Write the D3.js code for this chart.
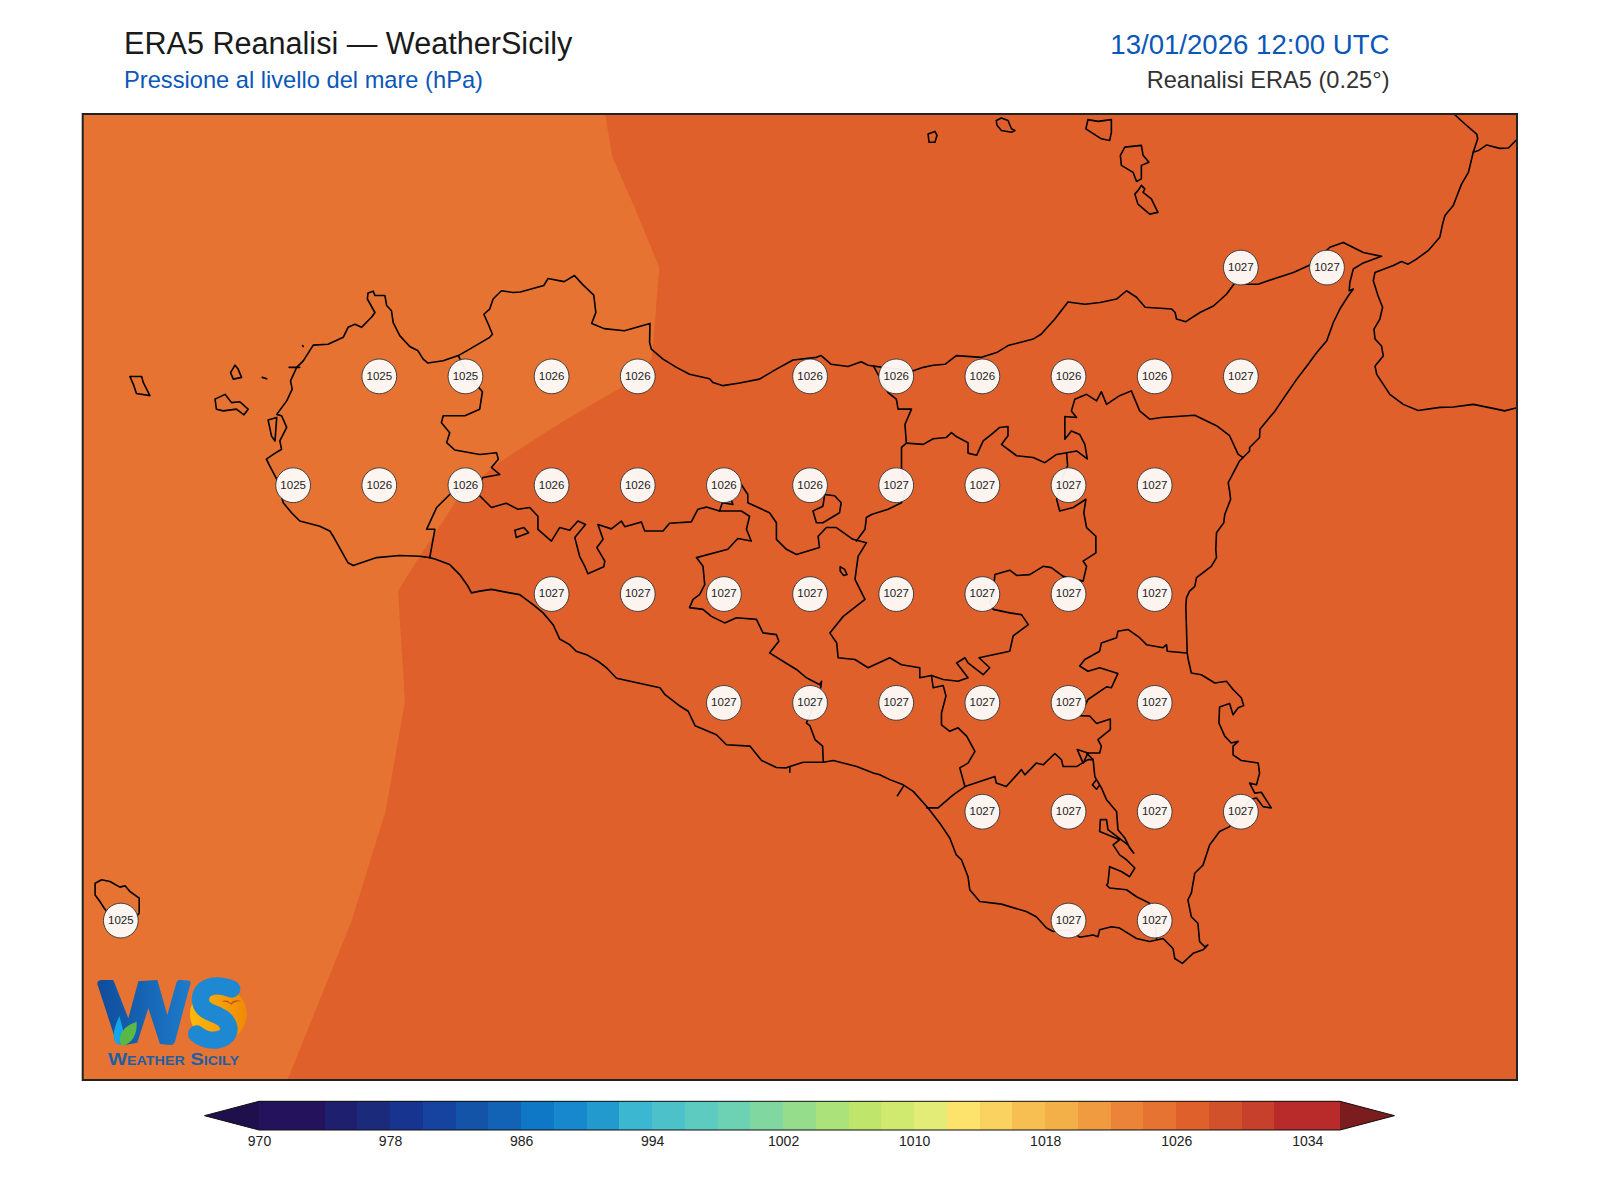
<!DOCTYPE html>
<html>
<head>
<meta charset="utf-8">
<title>ERA5 Reanalisi</title>
<script src="https://cdn.jsdelivr.net/npm/d3@7"></script>
<style>
  body { margin: 0; background: #fff; }
  text { font-family: "Liberation Sans", Arial, sans-serif; }
</style>
</head>
<body>
<div id="chart"></div>
<script>
// pressure sampled on the 0.25 degree grid (hPa), null = no label
const gridLons = [12, 12.25, 12.5, 12.75, 13, 13.25, 13.5, 13.75, 14, 14.25, 14.5, 14.75, 15, 15.25, 15.5];
const gridLats = [38.25, 38, 37.75, 37.5, 37.25, 37, 36.75];
const _ = null;
const gridValues = [
  [_, _, _, _, _, _, _, _, _, _, _, _, _, 1027, 1027],
  [_, _, _, 1025, 1025, 1026, 1026, _, 1026, 1026, 1026, 1026, 1026, 1027, _],
  [_, _, 1025, 1026, 1026, 1026, 1026, 1026, 1026, 1027, 1027, 1027, 1027, _, _],
  [_, _, _, _, _, 1027, 1027, 1027, 1027, 1027, 1027, 1027, 1027, _, _],
  [_, _, _, _, _, _, _, 1027, 1027, 1027, 1027, 1027, 1027, _, _],
  [_, _, _, _, _, _, _, _, _, _, 1027, 1027, 1027, 1027, _],
  [1025, _, _, _, _, _, _, _, _, _, _, 1027, 1027, _, _],
];

// colour bar
const levels = d3.range(970, 1036, 2);
const levelColors = ['#24125c', '#24125c', '#1f1f70', '#1c2a7c', '#173590', '#16439f', '#1353a8', '#1263b5', '#0e77c6',
  '#1888ce', '#239acd', '#3bb7d1', '#4dc1c9', '#5ecbc0', '#6dd2b3', '#80d79f', '#96dd8b', '#ace27a', '#bfe56a', '#d0e96f',
  '#e3ec76', '#fde26b', '#fad260', '#f7be52', '#f4b048', '#f09b3f', '#eb8438', '#e67331', '#e0602c', '#d1512b', '#c7402c',
  '#b92a2b', '#b92a2b'];
const barTicks = [970, 978, 986, 994, 1002, 1010, 1018, 1026, 1034];

// 1026 hPa contour, north to south [lon, lat]
const contour1026 = [[13.41, 38.6], [13.431, 38.501], [13.496, 38.384], [13.567, 38.248], [13.549, 38.067], [13.544, 38.037],
  [13.457, 37.972], [13.356, 37.926], [13.259, 37.88], [13.162, 37.83], [13.094, 37.795], [13.056, 37.769], [12.988, 37.723],
  [12.949, 37.676], [12.911, 37.63], [12.872, 37.584], [12.809, 37.504], [12.829, 37.25], [12.773, 36.999], [12.675, 36.748],
  [12.488, 36.381]];

// coastlines [lon, lat]
const coastSicily = [[12.427, 37.807], [12.447, 37.818], [12.471, 37.83], [12.466, 37.849], [12.486, 37.88], [12.471, 37.907],
  [12.457, 37.91], [12.486, 37.941], [12.502, 37.968], [12.497, 37.987], [12.515, 38.018], [12.534, 38.033], [12.563, 38.069],
  [12.606, 38.071], [12.65, 38.087], [12.664, 38.11], [12.684, 38.117], [12.703, 38.11], [12.732, 38.133], [12.742, 38.144],
  [12.72, 38.175], [12.722, 38.189], [12.737, 38.193], [12.742, 38.183], [12.771, 38.183], [12.776, 38.16], [12.79, 38.148],
  [12.795, 38.121], [12.814, 38.091], [12.843, 38.066], [12.867, 38.056], [12.882, 38.037], [12.896, 38.028], [12.94, 38.033],
  [12.984, 38.045], [13.017, 38.06], [13.075, 38.087], [13.083, 38.094], [13.071, 38.117], [13.058, 38.14], [13.075, 38.152],
  [13.085, 38.175], [13.109, 38.194], [13.143, 38.19], [13.164, 38.191], [13.232, 38.206], [13.244, 38.222], [13.291, 38.215],
  [13.321, 38.229], [13.345, 38.208], [13.377, 38.184], [13.383, 38.144], [13.371, 38.119], [13.407, 38.107], [13.466, 38.102],
  [13.54, 38.119], [13.539, 38.075], [13.544, 38.06], [13.578, 38.037], [13.617, 38.018], [13.655, 38.002], [13.713, 37.992],
  [13.723, 37.983], [13.752, 37.976], [13.8, 37.982], [13.858, 37.991], [13.907, 38.014], [13.955, 38.035], [14.023, 38.041],
  [14.037, 38.045], [14.066, 38.025], [14.115, 38.02], [14.153, 38.031], [14.173, 38.023], [14.216, 38.018], [14.304, 38.01],
  [14.333, 38.018], [14.362, 38.023], [14.396, 38.025], [14.429, 38.045], [14.502, 38.041], [14.546, 38.052], [14.579, 38.068],
  [14.633, 38.079], [14.652, 38.083], [14.675, 38.094], [14.715, 38.129], [14.753, 38.168], [14.802, 38.163], [14.846, 38.167],
  [14.894, 38.175], [14.923, 38.194], [14.952, 38.179], [14.977, 38.156], [15.054, 38.152], [15.064, 38.144], [15.068, 38.129],
  [15.095, 38.123], [15.136, 38.144], [15.175, 38.159], [15.213, 38.186], [15.238, 38.213], [15.262, 38.209], [15.305, 38.209],
  [15.349, 38.221], [15.407, 38.236], [15.46, 38.255], [15.513, 38.294], [15.552, 38.305], [15.61, 38.282], [15.663, 38.273],
  [15.61, 38.258], [15.581, 38.244], [15.571, 38.213], [15.569, 38.194], [15.581, 38.198], [15.566, 38.182], [15.542, 38.152],
  [15.523, 38.121], [15.504, 38.079], [15.475, 38.052], [15.45, 38.025], [15.417, 37.991], [15.383, 37.952], [15.354, 37.918],
  [15.31, 37.876], [15.309, 37.857], [15.28, 37.834], [15.28, 37.826], [15.251, 37.803], [15.218, 37.753], [15.222, 37.734],
  [15.225, 37.715], [15.208, 37.68], [15.205, 37.661], [15.184, 37.638], [15.182, 37.6], [15.184, 37.581], [15.169, 37.561],
  [15.126, 37.535], [15.121, 37.515], [15.106, 37.504], [15.097, 37.489], [15.095, 37.469], [15.099, 37.362], [15.102, 37.347],
  [15.111, 37.316], [15.14, 37.312], [15.179, 37.293], [15.213, 37.297], [15.232, 37.278], [15.256, 37.259], [15.263, 37.241],
  [15.247, 37.236], [15.232, 37.22], [15.222, 37.246], [15.193, 37.238], [15.191, 37.201], [15.208, 37.171], [15.227, 37.155],
  [15.247, 37.159], [15.232, 37.148], [15.232, 37.128], [15.256, 37.115], [15.305, 37.109], [15.309, 37.086], [15.3, 37.059],
  [15.28, 37.063], [15.295, 37.04], [15.314, 37.042], [15.343, 37.006], [15.319, 37.009], [15.3, 37.029], [15.28, 37.025],
  [15.222, 36.963], [15.193, 36.952], [15.164, 36.921], [15.145, 36.875], [15.121, 36.856], [15.111, 36.81], [15.101, 36.795],
  [15.111, 36.756], [15.13, 36.741], [15.135, 36.699], [15.15, 36.687], [15.159, 36.691], [15.145, 36.68], [15.116, 36.672],
  [15.085, 36.649], [15.063, 36.66], [15.058, 36.683], [15.029, 36.706], [14.99, 36.699], [14.952, 36.706], [14.903, 36.73],
  [14.879, 36.733], [14.845, 36.726], [14.84, 36.71], [14.826, 36.714], [14.787, 36.709], [14.758, 36.726], [14.71, 36.722],
  [14.691, 36.73], [14.661, 36.756], [14.632, 36.768], [14.56, 36.785], [14.497, 36.791], [14.468, 36.818], [14.463, 36.848],
  [14.444, 36.887], [14.429, 36.898], [14.41, 36.937], [14.381, 36.971], [14.347, 37.006], [14.304, 37.044], [14.275, 37.059],
  [14.236, 37.071], [14.207, 37.082], [14.188, 37.086], [14.14, 37.101], [14.072, 37.115], [14.043, 37.111], [13.985, 37.111],
  [13.946, 37.101], [13.936, 37.098], [13.907, 37.099], [13.864, 37.115], [13.83, 37.148], [13.762, 37.151], [13.733, 37.174],
  [13.671, 37.195], [13.651, 37.228], [13.627, 37.24], [13.584, 37.266], [13.569, 37.282], [13.443, 37.304], [13.414, 37.328],
  [13.389, 37.343], [13.356, 37.358], [13.326, 37.366], [13.307, 37.381], [13.278, 37.394], [13.259, 37.427], [13.23, 37.454],
  [13.201, 37.473], [13.162, 37.496], [13.133, 37.5], [13.08, 37.508], [13.046, 37.504], [13.022, 37.5], [13.012, 37.515],
  [12.988, 37.542], [12.959, 37.565], [12.916, 37.578], [12.901, 37.581], [12.872, 37.584], [12.814, 37.586], [12.747, 37.581],
  [12.679, 37.563], [12.664, 37.569], [12.621, 37.63], [12.611, 37.642], [12.582, 37.653], [12.524, 37.665], [12.5, 37.684],
  [12.476, 37.707], [12.457, 37.761], [12.437, 37.791], [12.427, 37.807]];

const coastCalabria = [[15.86, 38.61], [15.873, 38.6], [15.905, 38.577], [15.939, 38.554], [15.942, 38.543], [15.929, 38.512],
  [15.915, 38.466], [15.895, 38.439], [15.871, 38.39], [15.847, 38.367], [15.84, 38.347], [15.832, 38.317], [15.798, 38.286],
  [15.765, 38.267], [15.74, 38.255], [15.721, 38.261], [15.697, 38.252], [15.644, 38.236], [15.639, 38.217], [15.653, 38.182],
  [15.666, 38.156], [15.658, 38.129], [15.641, 38.106], [15.644, 38.083], [15.663, 38.067], [15.668, 38.044], [15.644, 38.021],
  [15.649, 38.002], [15.687, 37.956], [15.726, 37.933], [15.769, 37.919], [15.832, 37.926], [15.871, 37.927], [15.929, 37.933],
  [15.997, 37.922], [16.02, 37.918], [16.06, 37.926]];
const borderCalabria = [[15.929, 38.512], [15.944, 38.516], [15.968, 38.529], [16.006, 38.521], [16.031, 38.522], [16.058, 38.543]];

const marettimo = [[12.031, 37.997], [12.065, 37.997], [12.07, 37.983], [12.089, 37.953], [12.05, 37.958], [12.041, 37.979], [12.031, 37.997]];
const levanzo = [[12.336, 38.023], [12.323, 38.006], [12.331, 37.991], [12.355, 37.995], [12.345, 38.014], [12.336, 38.023]];
const favignana = [[12.278, 37.945], [12.307, 37.956], [12.326, 37.937], [12.35, 37.939], [12.374, 37.922], [12.362, 37.909],
  [12.34, 37.922], [12.302, 37.918], [12.282, 37.922], [12.278, 37.945]];
const formica = [[12.415, 37.995], [12.428, 37.992]];
const asinelli = [[12.532, 38.068], [12.534, 38.066]];
const stagnoneNorth = [[12.493, 38.018], [12.524, 38.018]];
const isolaGrande = [[12.432, 37.897], [12.457, 37.903], [12.452, 37.849], [12.442, 37.86], [12.432, 37.897]];
const pantelleria = [[11.93, 36.833], [11.949, 36.841], [11.973, 36.837], [12.002, 36.824], [12.017, 36.827], [12.031, 36.814],
  [12.058, 36.799], [12.058, 36.764], [12.046, 36.753], [11.992, 36.749], [11.968, 36.764], [11.956, 36.776], [11.944, 36.791],
  [11.93, 36.806], [11.93, 36.833]];
const alicudi = [[14.347, 38.554], [14.367, 38.56], [14.373, 38.551], [14.367, 38.535], [14.35, 38.535], [14.347, 38.554]];
const filicudi = [[14.545, 38.585], [14.56, 38.591], [14.579, 38.585], [14.589, 38.566], [14.599, 38.562], [14.589, 38.558],
  [14.56, 38.562], [14.547, 38.574], [14.545, 38.585]];
const salina = [[14.811, 38.587], [14.84, 38.583], [14.879, 38.587], [14.879, 38.558], [14.874, 38.539], [14.85, 38.543], [14.805, 38.566], [14.811, 38.587]];
const lipari = [[14.918, 38.524], [14.966, 38.528], [14.971, 38.505], [14.988, 38.489], [14.966, 38.482], [14.966, 38.451],
  [14.952, 38.445], [14.942, 38.466], [14.908, 38.482], [14.905, 38.505], [14.918, 38.524]];
const vulcano = [[14.966, 38.436], [14.976, 38.428], [14.971, 38.42], [14.995, 38.405], [15.014, 38.374], [14.99, 38.37],
  [14.956, 38.393], [14.947, 38.416], [14.956, 38.424], [14.966, 38.436]];

// province borders [lon, lat]
const borderTrapani = [[12.984, 38.045], [12.998, 38.022], [13.027, 37.987], [13.054, 37.962], [13.046, 37.922], [13.003, 37.907],
  [12.94, 37.907], [12.935, 37.891], [12.959, 37.868], [12.95, 37.845], [12.974, 37.828], [13.046, 37.818], [13.095, 37.822],
  [13.1, 37.807], [13.08, 37.788], [13.104, 37.772], [13.056, 37.765], [13.037, 37.745], [12.959, 37.726], [12.921, 37.696],
  [12.892, 37.646], [12.916, 37.646], [12.901, 37.581]];
const borderAgrigento = [[13.046, 37.723], [13.08, 37.696], [13.123, 37.706], [13.157, 37.692], [13.191, 37.696], [13.215, 37.676],
  [13.215, 37.646], [13.254, 37.619], [13.278, 37.65], [13.307, 37.644], [13.331, 37.665], [13.353, 37.657], [13.322, 37.627],
  [13.336, 37.584], [13.351, 37.561], [13.36, 37.544], [13.406, 37.56], [13.409, 37.573], [13.386, 37.604], [13.404, 37.623],
  [13.389, 37.657], [13.428, 37.647], [13.457, 37.665], [13.467, 37.652], [13.515, 37.663], [13.525, 37.642], [13.578, 37.642],
  [13.597, 37.66], [13.66, 37.663], [13.679, 37.692], [13.704, 37.697], [13.742, 37.688], [13.805, 37.688], [13.829, 37.676],
  [13.82, 37.646], [13.834, 37.619], [13.795, 37.625], [13.766, 37.6], [13.675, 37.581], [13.694, 37.561], [13.699, 37.519],
  [13.684, 37.496], [13.665, 37.485], [13.655, 37.466], [13.694, 37.462], [13.718, 37.446], [13.757, 37.431], [13.791, 37.443],
  [13.849, 37.439], [13.868, 37.408], [13.907, 37.404], [13.914, 37.389], [13.887, 37.362], [13.926, 37.343], [13.965, 37.324],
  [13.994, 37.305], [14.033, 37.289], [14.038, 37.297], [14.036, 37.284], [14.023, 37.255], [13.994, 37.201], [14.004, 37.195],
  [14.019, 37.163], [14.041, 37.148], [14.043, 37.111]];
const borderPalermoSouth = [[13.742, 37.688], [13.75, 37.707], [13.781, 37.703], [13.776, 37.713], [13.75, 37.707]];
const borderMadonie = [[13.805, 37.749], [13.824, 37.726], [13.824, 37.707], [13.887, 37.684], [13.907, 37.661], [13.907, 37.623],
  [13.936, 37.6], [13.965, 37.588], [14.032, 37.604], [14.028, 37.63], [14.052, 37.65], [14.081, 37.65], [14.129, 37.623], [14.168, 37.615]];
const borderPalermoEast = [[14.139, 37.619], [14.164, 37.646], [14.168, 37.673], [14.183, 37.68], [14.231, 37.692], [14.27, 37.707],
  [14.284, 37.738], [14.27, 37.788], [14.27, 37.834], [14.284, 37.844], [14.28, 37.887], [14.299, 37.922], [14.26, 37.922],
  [14.255, 37.945], [14.231, 37.96], [14.188, 38.022]];
const borderEnna = [[14.168, 37.615], [14.144, 37.584], [14.135, 37.531], [14.164, 37.485], [14.101, 37.446], [14.062, 37.408],
  [14.082, 37.385], [14.086, 37.351], [14.135, 37.347], [14.173, 37.328], [14.236, 37.351], [14.27, 37.335], [14.323, 37.328],
  [14.323, 37.305], [14.357, 37.31], [14.391, 37.301], [14.434, 37.297], [14.463, 37.305], [14.43, 37.339], [14.454, 37.351],
  [14.463, 37.339], [14.507, 37.312], [14.526, 37.328], [14.495, 37.351], [14.584, 37.366], [14.594, 37.401], [14.638, 37.427],
  [14.618, 37.45], [14.584, 37.454], [14.536, 37.462], [14.526, 37.477], [14.536, 37.5], [14.541, 37.542], [14.584, 37.552],
  [14.604, 37.54], [14.642, 37.542], [14.681, 37.561], [14.705, 37.558], [14.739, 37.538], [14.797, 37.527], [14.807, 37.561],
  [14.797, 37.573], [14.834, 37.592], [14.834, 37.63], [14.807, 37.65], [14.799, 37.684], [14.805, 37.715], [14.768, 37.696],
  [14.729, 37.688], [14.72, 37.715], [14.739, 37.769], [14.752, 37.792], [14.749, 37.822]];
const borderMessina = [[14.284, 37.844], [14.333, 37.841], [14.362, 37.854], [14.4, 37.857], [14.415, 37.868], [14.429, 37.859],
  [14.463, 37.845], [14.463, 37.821], [14.488, 37.816], [14.507, 37.849], [14.531, 37.864], [14.555, 37.88], [14.579, 37.882],
  [14.579, 37.861], [14.56, 37.841], [14.604, 37.815], [14.652, 37.811], [14.686, 37.799], [14.72, 37.818], [14.749, 37.822],
  [14.778, 37.826], [14.809, 37.808], [14.802, 37.841], [14.787, 37.864], [14.763, 37.872], [14.744, 37.853], [14.744, 37.905],
  [14.778, 37.903], [14.763, 37.918], [14.773, 37.945], [14.807, 37.956], [14.836, 37.941], [14.85, 37.962], [14.865, 37.933],
  [14.903, 37.953], [14.937, 37.964], [14.961, 37.918], [14.99, 37.899], [15.024, 37.903], [15.068, 37.905], [15.121, 37.908],
  [15.184, 37.884], [15.222, 37.861], [15.247, 37.818], [15.261, 37.811]];
const exclavePalermo = [[14.047, 37.726], [14.076, 37.723], [14.095, 37.707], [14.09, 37.684], [14.042, 37.661], [14.023, 37.661],
  [14.013, 37.688], [14.042, 37.699], [14.047, 37.726]];
const lakePergusa = [[14.092, 37.56], [14.105, 37.554], [14.112, 37.542], [14.102, 37.54], [14.092, 37.55], [14.092, 37.56]];
const lakeArancio = [[13.148, 37.644], [13.174, 37.65], [13.188, 37.638], [13.152, 37.627], [13.148, 37.644]];
const borderCaltanissetta = [[14.357, 37.31], [14.362, 37.282], [14.391, 37.287], [14.399, 37.263], [14.386, 37.224], [14.386, 37.197],
  [14.41, 37.182], [14.434, 37.19], [14.459, 37.171], [14.483, 37.136], [14.463, 37.109], [14.439, 37.098], [14.454, 37.055],
  [14.42, 37.036], [14.376, 37.006], [14.343, 37.006]];
const borderRagusaNorth = [[14.454, 37.055], [14.541, 37.078], [14.545, 37.063], [14.574, 37.055], [14.618, 37.094], [14.628, 37.082],
  [14.661, 37.109], [14.681, 37.105], [14.715, 37.131], [14.734, 37.117], [14.739, 37.101], [14.778, 37.101], [14.811, 37.117], [14.826, 37.117]];
const borderSiracusa = [[14.826, 37.117], [14.807, 37.132], [14.845, 37.132], [14.85, 37.148], [14.84, 37.163], [14.876, 37.186],
  [14.876, 37.21], [14.836, 37.2], [14.816, 37.217], [14.787, 37.218], [14.811, 37.255], [14.865, 37.284], [14.879, 37.282],
  [14.898, 37.315], [14.845, 37.328], [14.811, 37.32], [14.787, 37.332], [14.802, 37.347], [14.845, 37.366], [14.85, 37.385],
  [14.894, 37.397], [14.898, 37.412], [14.927, 37.416], [14.961, 37.397], [14.981, 37.381], [15.029, 37.374], [15.039, 37.381],
  [15.041, 37.366], [15.097, 37.362]];
const biviereLoop = [[14.78, 37.14], [14.811, 37.132], [14.797, 37.109], [14.78, 37.14]];
const borderRagusaEast = [[14.826, 37.117], [14.831, 37.078], [14.836, 37.071], [14.845, 37.059], [14.836, 37.049], [14.824, 37.059],
  [14.836, 37.071], [14.85, 37.052], [14.865, 37.025], [14.894, 36.998], [14.898, 36.956], [14.918, 36.937], [14.932, 36.914],
  [14.944, 36.902], [14.927, 36.921], [14.869, 36.956], [14.865, 36.979], [14.847, 36.979], [14.845, 36.952], [14.903, 36.933],
  [14.884, 36.921], [14.903, 36.898], [14.923, 36.887], [14.947, 36.868], [14.932, 36.848], [14.908, 36.86], [14.874, 36.871],
  [14.869, 36.833], [14.865, 36.829], [14.874, 36.822], [14.923, 36.818], [14.952, 36.802], [14.99, 36.787], [15.005, 36.749], [15.01, 36.706]];
const geloTick = [[14.275, 37.055], [14.258, 37.034]];
const licataMole = [[13.946, 37.101], [13.946, 37.088]];

const mapLines = [coastSicily, coastCalabria, borderCalabria, marettimo, levanzo, favignana, formica, asinelli, stagnoneNorth,
  isolaGrande, pantelleria, alicudi, filicudi, salina, lipari, vulcano, borderTrapani, borderAgrigento, borderPalermoSouth,
  borderMadonie, borderPalermoEast, borderEnna, borderMessina, exclavePalermo, lakePergusa, lakeArancio, borderCaltanissetta,
  borderRagusaNorth, borderSiracusa, biviereLoop, borderRagusaEast, geloTick, licataMole];

const width = 1600;
const height = 1200;
const map = { left: 82.7, right: 1517, top: 114, bottom: 1080 };

const svg = d3.select('#chart').append('svg')
  .attr('width', width)
  .attr('height', height)
  .attr('viewBox', `0 0 ${width} ${height}`)
  .style('display', 'block');

const xScale = d3.scaleLinear().domain([11.894, 16.056]).range([map.left, map.right]);
const yScale = d3.scaleLinear().domain([36.381, 38.6]).range([map.bottom, map.top]);
const [lonMin, lonMax] = xScale.domain();
const [latMin, latMax] = yScale.domain();

svg.append('clipPath').attr('id', 'map-clip').append('rect')
  .attr('x', map.left).attr('y', map.top)
  .attr('width', map.right - map.left).attr('height', map.bottom - map.top);

const mapLayer = svg.append('g').attr('clip-path', 'url(#map-clip)');
const line = d3.line().x((d) => xScale(d[0])).y((d) => yScale(d[1]));

// filled contour bands
mapLayer.append('rect')
  .attr('x', map.left).attr('y', map.top)
  .attr('width', map.right - map.left).attr('height', map.bottom - map.top)
  .attr('fill', levelColors[levels.indexOf(1026)]);
mapLayer.append('path')
  .attr('d', line([...contour1026, [lonMin, latMin], [lonMin, latMax]]) + 'Z')
  .attr('fill', levelColors[levels.indexOf(1024)]);

// coast and borders
mapLayer.selectAll('path.geo')
  .data(mapLines)
  .join('path')
  .attr('class', 'geo')
  .attr('d', line)
  .attr('fill', 'none')
  .attr('stroke', '#000')
  .attr('stroke-width', 1.6)
  .attr('stroke-linejoin', 'round')
  .attr('stroke-linecap', 'round');

// value labels, nudged to sit on the reference circles
const labels = gridValues.flatMap((row, i) => row
  .map((v, j) => ({ lon: gridLons[j], lat: gridLats[i], value: v }))
  .filter((d) => d.value !== null));

const labelGroup = mapLayer.selectAll('g.label')
  .data(labels)
  .join('g')
  .attr('class', 'label')
  .attr('transform', (d) => `translate(${xScale(d.lon) + 1.6},${yScale(d.lat) + 1.2})`);
labelGroup.append('circle')
  .attr('r', 17.4)
  .attr('fill', '#fff')
  .attr('fill-opacity', 0.93)
  .attr('stroke', '#333')
  .attr('stroke-width', 0.9);
labelGroup.append('text')
  .attr('text-anchor', 'middle')
  .attr('y', 3.3)
  .attr('font-size', 11.5)
  .attr('fill', '#222')
  .text((d) => d.value);

// logo, drawn in crop coordinates
const defs = svg.append('defs');
const wGrad = defs.append('linearGradient').attr('id', 'w-grad').attr('x1', 0).attr('x2', 1).attr('y1', 0).attr('y2', 0);
wGrad.append('stop').attr('offset', 0).attr('stop-color', '#0f4c9c');
wGrad.append('stop').attr('offset', 1).attr('stop-color', '#1d7ccb');
const sunGrad = defs.append('linearGradient').attr('id', 'sun-grad').attr('x1', 0).attr('x2', 1).attr('y1', 0).attr('y2', 0);
sunGrad.append('stop').attr('offset', 0).attr('stop-color', '#ffb90a');
sunGrad.append('stop').attr('offset', 1).attr('stop-color', '#ef8a06');

const logo = svg.append('g').attr('transform', 'translate(80,840) scale(0.3333)');
logo.append('circle').attr('cx', 415).attr('cy', 522).attr('r', 85).attr('fill', 'url(#sun-grad)');
logo.append('path')
  .attr('d', 'M455,447 C400,425 355,445 362,485 C370,530 440,515 447,565 C448,605 385,612 350,582')
  .attr('fill', 'none').attr('stroke', '#1f88d2').attr('stroke-width', 52).attr('stroke-linecap', 'round');
logo.append('path')
  .attr('d', 'M52,432 Q52,420 65,420 L100,420 L145,535 L175,424 L232,420 L262,525 L290,425 Q295,418 305,420 L328,422 Q335,425 330,436 L285,605 Q280,616 270,615 L240,612 L205,505 L172,608 L130,616 L110,610 Z')
  .attr('fill', 'url(#w-grad)');
logo.append('path')
  .attr('d', 'M118,528 C100,570 92,600 115,614 L135,600 C130,575 125,550 118,528 Z')
  .attr('fill', '#12a5ea');
logo.append('path')
  .attr('d', 'M122,615 C112,575 140,555 170,545 C172,580 160,610 125,618 Z')
  .attr('fill', '#58b947');
logo.append('path')
  .attr('d', 'M422,485 C440,478 445,482 452,490 C460,480 470,478 484,484 C470,482 462,486 454,494 C445,486 436,484 422,485 Z')
  .attr('fill', '#c8501a');
svg.append('text')
  .attr('x', 108).attr('y', 1065)
  .attr('textLength', 131).attr('lengthAdjust', 'spacingAndGlyphs')
  .attr('font-size', 17).attr('font-weight', 'bold').attr('font-variant', 'small-caps')
  .attr('fill', '#1d5fa8')
  .text('Weather Sicily');

// map frame
svg.append('rect')
  .attr('x', map.left).attr('y', map.top)
  .attr('width', map.right - map.left).attr('height', map.bottom - map.top)
  .attr('fill', 'none').attr('stroke', '#222').attr('stroke-width', 2);

// headers
svg.append('text').attr('x', 124).attr('y', 54).attr('font-size', 30.6).attr('fill', '#1a1a1a').text('ERA5 Reanalisi — WeatherSicily');
svg.append('text').attr('x', 124).attr('y', 88).attr('font-size', 23.66).attr('fill', '#0b57b8').text('Pressione al livello del mare (hPa)');
svg.append('text').attr('x', 1389.5).attr('y', 54).attr('font-size', 27.6).attr('fill', '#0b57b8').attr('text-anchor', 'end').text('13/01/2026 12:00 UTC');
svg.append('text').attr('x', 1389.5).attr('y', 88).attr('font-size', 23.6).attr('fill', '#333').attr('text-anchor', 'end').text('Reanalisi ERA5 (0.25°)');

// colour bar
const barTop = 1101.3;
const barBottom = 1130;
const barMid = (barTop + barBottom) / 2;
const barScale = d3.scaleLinear().domain([970, 1036]).range([259, 1340]);
const barStep = barScale(972) - barScale(970);
const tipLen = 54.5;

const bar = svg.append('g');
bar.selectAll('rect')
  .data(levels)
  .join('rect')
  .attr('x', (d) => barScale(d))
  .attr('y', barTop)
  .attr('width', barStep + 0.4)
  .attr('height', barBottom - barTop)
  .attr('fill', (d, i) => levelColors[i])
  .attr('shape-rendering', 'crispEdges');

const x0 = barScale.range()[0];
const x1 = barScale.range()[1];
bar.append('path')
  .attr('d', `M${x0},${barTop}L${x0 - tipLen},${barMid}L${x0},${barBottom}Z`)
  .attr('fill', '#1f0f4c');
bar.append('path')
  .attr('d', `M${x1},${barTop}L${x1 + tipLen},${barMid}L${x1},${barBottom}Z`)
  .attr('fill', '#7b1c1e');
bar.append('path')
  .attr('d', `M${x0},${barTop}L${x1},${barTop}L${x1 + tipLen},${barMid}L${x1},${barBottom}L${x0},${barBottom}L${x0 - tipLen},${barMid}Z`)
  .attr('fill', 'none')
  .attr('stroke', '#111')
  .attr('stroke-width', 1);

const barAxis = svg.append('g')
  .attr('transform', `translate(0,${barBottom})`)
  .call(d3.axisBottom(barScale).tickValues(barTicks).tickSize(0).tickPadding(6).tickFormat(d3.format('d')));
barAxis.select('.domain').remove();
barAxis.selectAll('text')
  .attr('font-size', 14)
  .attr('font-family', '"Liberation Sans", Arial, sans-serif')
  .attr('fill', '#222');
</script>
</body>
</html>
